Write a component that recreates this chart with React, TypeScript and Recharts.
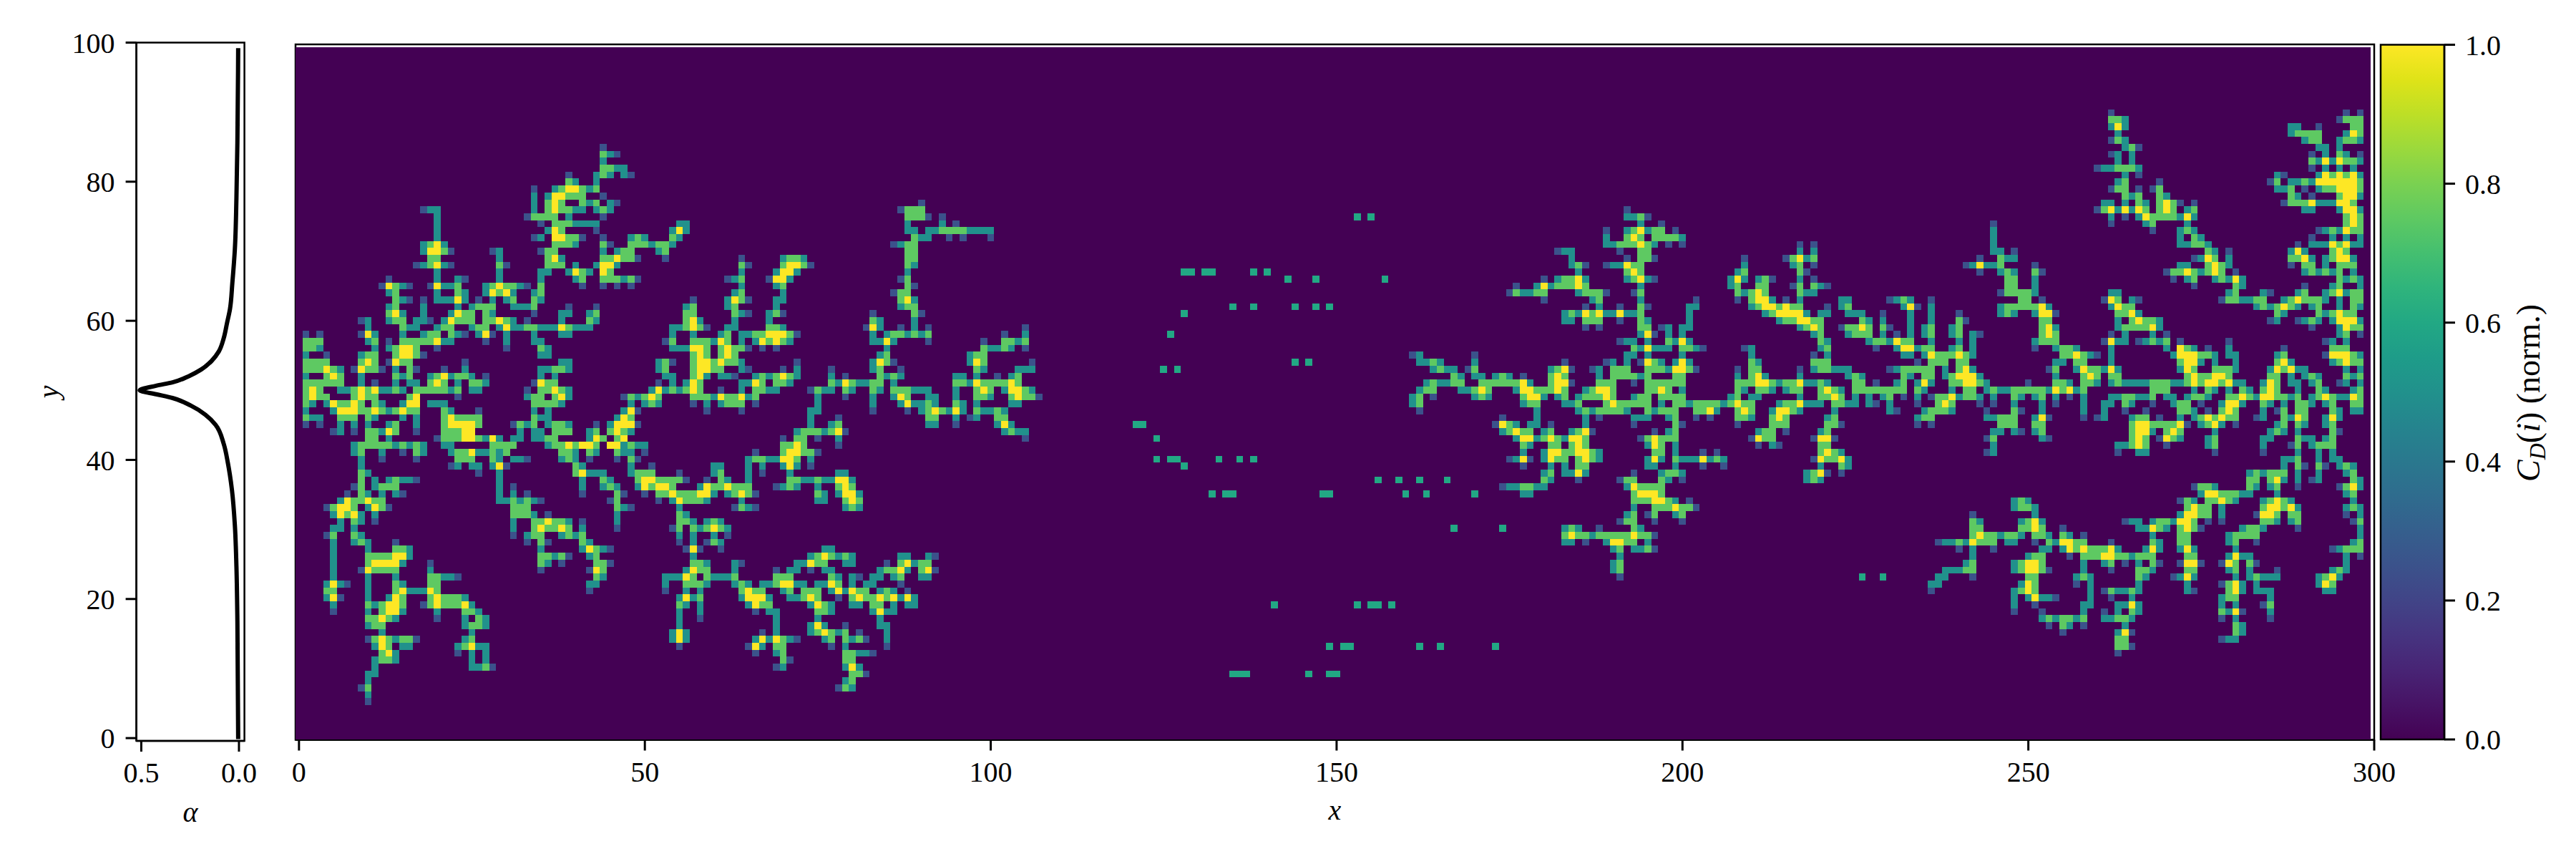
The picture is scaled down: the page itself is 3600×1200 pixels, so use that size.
import React from 'react';
import {
  Bar,
  ComposedChart,
  ReferenceArea,
  Scatter,
  ScatterChart,
  XAxis,
  YAxis,
} from 'recharts';

// Cells are written per row as [y, "start+level+run ..."], e.g. "44c2" is x=44,45 at level c.
const levels: Record<string, number> = { a: 0.25, b: 0.5, e: 0.6, c: 0.75, d: 1 };

const viridis = [
  '#440154', '#471365', '#482475', '#463480', '#414487', '#3b528b', '#355f8d',
  '#2f6c8e', '#2a788e', '#25848e', '#21918c', '#1e9c89', '#22a884', '#2fb47c',
  '#44bf70', '#5ec962', '#7ad151', '#9bd93c', '#bddf26', '#dfe318', '#fde725',
];

const xTicks = [0, 50, 100, 150, 200, 250, 300];
const yTicks = [0, 20, 40, 60, 80, 100];
const alphaTicks = [0.5, 0];
const colorTicks = [0, 0.2, 0.4, 0.6, 0.8, 1];

const alphaValues = [
  0.004, 0.008, 0.013, 0.021, 0.034, 0.046, 0.061, 0.078, 0.103, 0.141, 0.193, 0.256, 0.34, 0.424,
  0.508, 0.424, 0.34, 0.246, 0.172, 0.12, 0.078, 0.057, 0.036, 0.021, 0.013, 0.008, 0.004,
];
const alphaY = [
  99.2, 85.7, 77.6, 70.3, 65.4, 61.7, 59.7, 57.5, 55.6, 54.2, 53, 52.05, 51.15, 50.66,
  50, 49.44, 48.9, 47.8, 46.5, 45.05, 42.3, 39.6, 35.7, 30.6, 24.7, 16.8, -0.15,
];

const leftNear: [number, string][] = [
  [85, '44a'], [84, '44c 45b 46a'], [83, '44b'], [82, '44c2 46b2'], [81, '39a 43b 44c 45b 47b'],
  [80, '39c 40b 43b'], [79, '34a 37b 38c 39d2 41c 42b 43c'], [78, '34b 36b 37d2 39c3 44a'],
  [77, '34b 36c 37d 38c 41c 42b 43c 45b 46a'], [76, '18a 19b2 34b 36c 37d 38c2 40b2 43b 44c 45b'],
  [75, '20b 33a 34c4 39b 44a'], [74, '20b 35a 37c3 40b4'], [73, '20b 36b 37d 38c 43a'],
  [72, '20b 34a 35b 37d2 39c2 41a 44a'], [71, '18b 19c 20d 21b 37c3 40b 44c 45a'],
  [70, '18b 19d2 21c 22a 28a 29b 35a 36c2 44b 46b 47c'], [69, '19c2 29b 36c 37d 38b 44c2 46d 47c'],
  [68, '17a 18b 19c 20d 21b 22a 29c 30a 36c3 40b 43b 44d2 46b'],
  [67, '20b 29b 35b2 39b 40d 41c 42b 44d 45c'], [66, '13a 20b 23b 24a 29b 35b 40b 41c 44c3 47b'],
  [65, '12a 13d 14c 15b 16a 19a 20d 21b2 23c 27b 28c 29d 30c2 32b 33a 35c 41a 44a 46a'],
  [64, '13b 14c 20b 23c 24b 27b 28d 29c 30d 31b 34b 35c'],
  [63, '14c 15b 16a 18a 20b3 23d 24b 26a 28b 30b 31c 34c 35b'],
  [62, '13b 14c 18b 23b 25b 26c3 31b3 34c 39a 43a'],
  [61, '13c 14d 15b 18b 22b 23d 24c2 27c 28b 34a 38b2 42b 43c'],
  [60, '9a 10b 13b 14c2 17b 18b 19a 21b 22d 23c3 27c2 29d 30c 31b 33a 38b 42c 43b'],
  [59, '10b 15c 16b2 20b 21c2 25b 26c2 29b 30d 31b 32b 33c2 35b3 38d 39c 40b3'],
  [58, '1a 3a 9a 10d 11b 15b 18b 19c2 22c 23b 24a 26b 27d 28a 30b 34b 38b2'],
  [57, '1c3 10b 11c 13a 15c5 20d 21b2 27a 30b 34b2'], [56, '1c2 3b 11b 13b 14c 15d2 17c 20a 30a 35c 36b'],
  [55, '1b 4a 9b 10c2 14c 15d2 17c 18a 35b2'], [54, '1c4 9c 10d 11c 13a 14d 15c2 24a 38b2'],
  [53, '1c3 4d 5c 6b 8a 9d 10c2 12a 14b 16c 17a 21a 24b 35b2 37c2 39b'],
  [52, '1b 4c 5d 6c 9b 14c 15b 16c 19b 20c 21d 22b 23c2 25b 27a 35b 37b'],
  [51, '1c6 9b 11a 14b 16b2 19c 20d 21c 23b 25c2 27b 34a 35d 36c2'],
  [50, '1c 2d 3c 6b2 8c 9d 10c 11d 12b2 14c 15b 17c5 22b 23c 25b2 33a 35c2 37d 38c 39b'],
  [49, '1c 2d 3c2 8c 9d 10c2 16c 17d 23a 33b 34c2 37c 38d 39b 47a'],
  [48, '1c 2b 4b 5d 6c2 8d 9c 11c 12b 15b 16d2 19b3 34c4 38b'],
  [47, '1b 5b 6d3 9c2 11d 12c 13b 14c 15d 16c2 21c 22b 26a 34b 36b 47b'],
  [46, '1c 2b2 6c3 10c 11b 15b 17b 21c 22d 23c4 34c 35b 36b 46b 47d'],
  [45, '1a 3a 6b 8b 10b 13b 14c 17b 21c 22d4 26c 31a 32c 33b 34c 36b 37c2 39b 43a 45b 46d2'],
  [44, '5a 6b 8a 10c2 12b 13d 14c 17a 21c3 24d2 32b 34b2 37c3 42b 43c 45c 46d 47c'],
  [43, '10c2 13b 20a 21c3 24d2 26c 27b 28d 29b 31b2 34b2 36c2 42b 43d 44c 46c 47d'],
  [42, '8b 9c5 14b 15c 16b 17c 18b 21b2 28c4 36b 37c2 39d 40c 41d2 43c 45d2 47b'],
  [41, '8b 9c 12b 15a 17c 18b 22b 23c2 25d 26b2 28c 29b 30c 38c2 40b 42c 43b 46c 47b'],
  [40, '9b 12a 17a 23c3 28c 29b 31b2 33a 38b 39c 40b 42a 46a'],
  [39, '9b 22a 23b 25b2 28b 29d 30a 40c 41b'], [38, '9c 10b 26a 29b 40c 41d 42b3'],
  [37, '9c 11b 13b 14c 15b2 17a 29b 41b 44c 45b'], [36, '8a 9c 11b 12c3 29b 31a 41b 44b 45c 46b'],
  [35, '7a 9c 10b 12b 14b 15a 29b 31b 33a 41a 46c 47a'],
  [34, '6b 7d 8c2 10d 11c2 29b2 31c 32b 33c 34b 35a 45a 46c'],
  [33, '4a 5c 6d2 8c 10b 11d 12c 13a 31c3 46c 47b'], [32, '5b 6d 7c 8d 9b 11b 31c3 34b 36a 46b'],
  [31, '6b 8c 9b 11a 31b 34c2 36d 37c2 39b 41a 46b'], [30, '5b2 8b 31b 34c 35d 36c2 38d 39c 41b 46a'],
  [29, '4a 5c 8c 9b 31a 33b 34c2 38b 39c 40b 41c'], [28, '5b 8b 9c 10b 14a 33a 35c 36a 41c 42b'],
  [27, '5b 10b 14c2 16b 35b 41b 42d 43c 44b 45a'], [26, '5b 10c4 14d2 16b 35c2 37b 38c 39a 42b 43c'],
  [25, '5b 10c 11d4 15b 19a 35c 36b 38a 43c2 45a'], [24, '5b 9a 10d 11c4 19b 35a 42a 43d 44c'],
  [23, '5b 10b 14b 19c2 21b2 23a 43c 44b'], [22, '4b 5d 6b 7a 10b 14c 15b 19c2 42b2'],
  [21, '4c2 10b 14c 15d 16b3 19d 20c 42a'], [20, '4b 5d 6a 10b 13b 14d 15c 19c 20d 21c3 24b'],
  [19, '5b 10c 11b 12c 13d2 15c 18a 19c 20d 21c3 24d 25b'], [18, '5a 10b 12c 13d2 15b 20b 24c2 26b'],
  [17, '10c2 12d 13c 14b 20a 24b 26c 27b'], [16, '10b 11c2 24b 25c2 27b'], [15, '12b 25b'],
  [14, '10a 11c 12d 13c 14b 15c2 17a 24b 25c'], [13, '11b 12d 13c 15b2 23b 24c 25d 26b2'],
  [12, '12c 13d 14b 23a 25b 27b'], [11, '11b 12c2 14b 25b 27b'], [10, '11b 25b2 27c 28a'],
  [9, '10b2'], [8, '10b'], [7, '9a 10c'], [6, '10b'], [5, '10a'],
];

const leftFar: [number, string][] = [
  [81, '48a'], [77, '90a'], [76, '87a 88c3'], [75, '88c3 91a 93a'], [74, '55b2 88b 93b 95a'],
  [73, '54b 55d 56b 88b2 91b2 93c4 97b4'], [72, '48b 49c 50b 54c 55b 89c 90b2 94a 96a 100a'],
  [71, '48c3 51b 52c2 54b 86a 87b 88c2'], [70, '48c 52b 53c 88c2'], [69, '48c 49a 53a 64a 70b 71c2 73b 88c2'],
  [68, '64c 65a 70c 71d2 73c 74a 88c 89b'], [67, '64b 69b 70d2 72b 88b'],
  [66, '48c 49a 62a 63b 64c 68a 69d2 71b 87a 88c'], [65, '48a 64b 69b 70c 88c 89a'],
  [64, '63b 64c 70b 86a 87c2'], [63, '57a 62b 63d 64c 65a 69b2 87c 88d 89b'], [62, '56b 57c 62b 63c 69b 87b 88c2'],
  [61, '56c2 63c 64b 65a 68b 69c 70a 83a 89c 90a'], [60, '56c 57d 58b 63b 68b 83c 84b 89b'],
  [59, '54b2 56c 57d 58c 59a 62b2 68c2 70b 82a 83d 84b 87a 89b 91a 105a'],
  [58, '54b 57b 61b 62c 64b2 66c2 68d3 71c 72a 83b 85b 86c2 88b 89c 90b 91c 102a 105b'],
  [57, '53a 54c 57c3 60b 61d 62c 64b 66b 67d 68c 69d 70c 71b 83b2 85d 86b 91a 99a 102c2 104b 105c'],
  [56, '54b3 57d2 59c 61c 62d 63c2 65a 67a 69a 85b 99c 100b2 102c 103b 105a'],
  [55, '57c 58d 59c 61c 62d 63c 84b 85c 97b 98c2'],
  [54, '52b 53c 54a 57c 58d2 60c 61d 62c2 64b 72a 83b 84d 85c 86a 97b 98d 99c 106a'],
  [53, '52b 53c 57c 58d2 60c2 64b 65a 70a 72b 77a 83b 84c 87a 98c 99b 104b3'],
  [52, '53b2 57c 58d 59b 61b2 63a 66b 67c 68b 69c 70d 71c 72b 77b 79a 84c 85b 86c 87b 95b2 98b 101a 103b 104c'],
  [51, '52a 54b 56b 57d 58c 64b2 66d 67c 69c2 71b 77c 78b 79d 80c 81b2 83c2 86b 95c2 97b 98d 99c4 103d 104c'],
  [50, '51b 52d 53b 54c 55b 56c 57d 58c 61a 64b 66c2 68b2 74a 75c 76b2 79c 80b 83c 84b 86c3 89b3 95b 98c 99d 100c 102b 103d2 105c 106b'],
  [49, '48c 49b 50c 51d 52c 57c3 60b 61d 62c2 64d 65b 66c 75b 79a 83b 86b 87d 88c 91b2 95b 98c2 100b 103c 104d 105c2 107a'],
  [48, '48b 50b 51c 52b 57a 59b 61b 62c3 66a 75b 83b 87b 88d 89b2 91c 92b 95c 96b 98b 103b2'],
  [47, '48d 49a 59a 64a 74b2 83a 88a 90b 91c 92d 93c 94b 95d 96b 98c 99b2 101c 102b'],
  [46, '48c 74b 78a 91c2 95b 97a 98b 101c2'], [45, '48d 49a 74b 77b 78c 91b2 95a 101b 102d 103b'],
  [44, '48b 72b 73c3 76b 77c 78d 79a 102b 103c 104b2'], [43, '70a 72c2 75a 78b 105a'],
  [42, '48c 49b2 70c2 72d 73c 78a'], [41, '48b 50a 66a 70c 71d2 73c2 75a'],
  [40, '48c 49a 65b 66c2 68b2 70d2 72c 74b'], [39, '48b 51a 60b2 65b 67b 70b 71d 72b 74a'],
  [38, '48b 49c3 55a 60b 61c 65b 67a 71b 78b2'],
  [37, '49c 50d2 52c4 56a 59a 61c 62b 65b 71c2 73b2 75c 76b2 78d2 80b'],
  [36, '49b 50d 51c 52d2 54c 58b 59d 60c2 62d 63c3 69a 70b 71c 72b 75b 78c 79d 80c'],
  [35, '50a 52c2 54d 55c3 58d2 60b 62b 63c 64d 65c 66a 75c 76b 78b 79d2 81b'],
  [34, '52a 54b 55d 56c3 59b 64b 75b2 79c 80d 81c'], [33, '48a 55b 63a 64c 65b 66a 79b 80c 81b'],
  [32, '55c 56b'], [31, '55c2 57b 59b 60c 61b'], [30, '54a 55c 57c 58b 59c 60d 61c 62b'],
  [29, '55b 57b 60b 62a'], [28, '55a 57b 59a 60c 61b'], [27, '56a 57d 58a 61a 76b2'],
  [26, '57b 74b 75c 76d 77c 78b 79c 80b 87b2 91b 92a'],
  [25, '57c2 59b 63b 64a 72b2 74d 75c2 79b2 85a 87c 88d 89b 90c2'],
  [24, '56b 57d 58c2 63b 69a 71b2 74a 76b2 84b 85c2 87d 88b 90c 91d 92a'],
  [23, '53b3 56d 57c 59c 60b3 63c 69c3 77c 78b 80b 81a 83b2 86b 87c 90b2'],
  [22, '53b 56c3 59b 63b 64c 65b 67b2 69c 70d2 72b2 75b2 77d 78c 80b 82b2 87a'],
  [21, '53a 56b 58b 64c 65d 66c2 70b 71c 73c3 77b 78d 79b 80d 81c2 84b 85c 86b 88a'],
  [20, '55b 56d 57b 58c 64b 65d3 68b 71b2 73c 74d 75c 78a 80c 81d 82c2 84d 85c 86d 87b 88d 89b'],
  [19, '55c 56b 58b 65b 66d 67c2 74b 75d 76c 77b 80b2 83c2 86b 88b2'],
  [18, '55b 58b 66a 68b2 75c2 77b 83b 84d 85b2'], [17, '55b 58a 69b 75b 84b'],
  [16, '55b 69b 74b 75d 76b 79a 84b2'], [15, '54b 55d 56b 67a 69b 74b 75c 76d 77c 78b 79c 81a 85b'],
  [14, '54b 55d 56b 66b 67d 68b 69d 70c 71b 72a 76b 77c 79c 80b 81c 82a 85b'],
  [13, '55a 65a 66d 67b 69c2 77a 79b 85a'], [12, '66a 69b 70c 79c2 81b2 83a'], [11, '70c 71a 79c2'],
  [10, '69a 70b 79b 80d 81b'], [9, '80c2 82a'], [8, '79b 80c'], [7, '78a 79c 80b'],
];

const sparseDots: [number, string][] = [
  [75, '153e 155e'], [67, '128e2 131e2 138e 140e'], [66, '143e 147e 157e'],
  [62, '135e 138e 144e 147e 149e'], [61, '128e'], [58, '126e'], [54, '144e 146e'], [53, '125e 127e'],
  [45, '121e2'], [43, '124e'], [40, '124e 126e2 133e 136e 138e'], [39, '128e'],
  [37, '156e 159e 162e 166e'], [35, '132e 134e2 148e2 160e 163e 170e'], [30, '167e 174e'],
  [23, '226e 229e'], [19, '141e 153e 155e2 158e'], [13, '149e 151e2 162e 165e 173e'], [9, '135e3 146e 149e2'],
];

const rightNear: [number, string][] = [
  [76, '192a'], [75, '192b2 194c 195a'], [74, '194b 197a'], [73, '189a 192b 193c 194d 195b 196c2 199a'],
  [72, '189b 192c 193d 194c 196c4 200b'], [71, '189b2 191c3 194d 195c 196b 198a 200a 217a 219a'],
  [70, '182a 183b2 191a 194c2 217b 219b'], [69, '184b 192a 194c2 196a 209a 215a 216c 217d 218b 219c'],
  [68, '184b 185c 186a 189a 190b2 192d 193c2 209b 216b 217c 219a'], [67, '185b 192c 193d 194c 208b 209c 217c 218a'],
  [66, '180a 182b 183c2 185d 186b 192b 193c 194d 195b 196a 207b 208d 209b 211b 212c 213a 217b 219a'],
  [65, '176a 179b 180d 181b 182c3 185d 186c 194b 207b 208c 211c2 216a 217c 219c 220b 221a'],
  [64, '175a 176c 177b2 179c2 185b 186c3 189a 193a 194c 208c 209b 210c 211d 212c 217c 218b2'],
  [63, '180a 187b 188c 194b 202a 208a 210c 211d2 213b 215a 217b 223b2 230a'],
  [62, '186a 188b 191a 194c 195a 201b2 210b 211c 212d2 214c 215d 216c2 221a 223b 224c'],
  [61, '183b 184c 185b 186d 187c 188d 189b2 191d 192b2 194c 201b 212b 213c 214d4 218b 220b2 224b3 229a'],
  [60, '183b2 186c3 191a 194c 195b 201b 214b 215c2 217d2 219c2 226c 227b 229b'],
  [59, '186a 188a 194c2 197a 198b 200b2 217b 218c 219d 220c 223a 224c2 226d 227c 229c 230a'],
  [58, '194b 195d 196a 198b 200b 219b 220c 224b 225c3 229b'],
  [57, '191a 192b2 195b 198c 199b 200d 201b 220c 221b 227b 228c2 230b'],
  [56, '193c 194b 195d 196b3 200c2 202b 203a 209a 210b 220b 221c 228a'],
  [55, '161a 162b 170a 192b2 195b 200b 210b 219a 221b'],
  [54, '162b2 164c 165b 170b 183a 189a 190b 192b 194a 195d 196c 197b 199b 200d 201b 210c 211b 219c3'],
  [53, '164b 165c 166b2 169a 170c 181b 182c 183d 184a 187a 188b 190c3 195c3 198b 199d2 201c 202a 208a 210c2 217a 219b 220c2 222b3 230a'],
  [52, '167c 168b 170b2 173b 174c 175b 177a 181c 182d 183c 188b 190c4 194b 195c 199c2 208b 210c 211d 212b 217b 224b 225c 226b'],
  [51, '163b 164c 165b2 167c2 171c6 177d 178b 181c 182d2 184a 188c3 193a 195c6 208c3 211d2 213c 214b 215c2 217d 218b2 220c 221b 225c2 228a'],
  [50, '162b 163c2 168b2 170c 171d 172c 176b 177d2 179c3 182d 183c 186b 187c 188d2 190c 195c2 197d 198c 200b 208c 209b 211c2 213b 215b 216c2 220c 221d 222c 223b 225c6'],
  [49, '161b 162c 164a 170b 171c 172b 177c 178d2 180b 182b 183c 185b 186c3 189d 190c 193b 194c2 197c4 207b 208c 210b2 217b 220c2 222d 223c 225b 227b 229b 230c'],
  [48, '161b 162c 177b 178c2 183b2 185c 189c 190d 191c5 197b 199c2 201b 202c4 206b 207c 208d 209c2 214b 215c2 217d 218b3 222c2 224b2 227b 228a 230b'],
  [47, '162a 179b 185b 186c 187b 188c4 192b 195c 196b 197c3 202c2 204d 205b 208c 209d 210c 213b 214d2 216c 217b 222b 230b'],
  [46, '174a 179b 186b 188a 193b3 198b 199c 202a 204a 208c2 210b 213c 214d 215c 221b 222c'],
  [45, '173a 174d 175c 176b 178b2 181a 186b 193a 199c 200a 208a 213c3 221c2 223a'],
  [44, '174b 175c 176d 177c2 180b 181c 184b 185c 186d 187a 196a 198b 199c 211b 212c2 215a 220b 221c'],
  [43, '176b 177d2 179b 180c 181d 182c 183b 184d2 186c 194a 195c 196d 197c3 210a 211d 212c2 219a 220d2 222a'],
  [42, '177c 178b 181c2 184c 185d 186c 195b 196d 197c 199b 211a 213b 214a 220c2'],
  [41, '177b 180b 181d2 183c2 185d2 187c 188b 196c2 199b 203a 205a 220c 221d 222c 223b'],
  [40, '175a 176b 177d 178a 180b 181d 182c2 185c 186d 187c 188b 195b 196d 197b 199c 200b3 203d 204b 205c 206b 219a 220d 221c2 223d 224b'],
  [39, '177a 181b 183b 185c2 195b2 199b 203a 206a 220b 223c 224b'],
  [38, '180b 181c 183b2 185d 186b 193a 197b 198c2 200b 218b 219c 220d 221a 223a'],
  [37, '180c 181b 185a 191a 192c2 197c 198b 200a 218b 219c 220b'],
  [36, '174a 175b2 177c2 179b2 192b 193d 194c4'], [35, '177b2 193c 194d3 197c'],
  [34, '193c3 196d2 198c 199b 201a'], [33, '193b 196c3 199d 200c2 202a'], [32, '192b 193c 195a 196c 199b 200c'],
  [31, '191a 192c2 196a 200a'], [30, '183b 184c 185b 188a 193c 194b'],
  [29, '183c 184d 185c2 187b 188c5 193d 194c2 196a'], [28, '183b2 186a 189b 190d2 192c2 195b'],
  [27, '190b 191c 193b2 195c 196a'], [26, '191b'], [25, '190b 191c'], [24, '190b 191c'], [23, '191a'],
];

const rightFar: [number, string][] = [
  [90, '262a 296a 298a'], [89, '262c2 264b 295a 296c3'], [88, '262b 263d 264b 288b2 292a 297c2'],
  [87, '263b 288b 289c4 296b 297d 298c'], [86, '262a 263c 264b 290b 291c2 295b 296c2 298b'],
  [85, '264b 265c 266a 292b2 295b'], [84, '262a 263b 265b 291a 293b 295c 296b 298a'],
  [83, '263b 265b 291c 292b 293d 294b 295d 296c2 298b'], [82, '260a 261b2 263c3 266b 291a 293b 295b 297b'],
  [81, '264b 266a 286b 287a 292b 293d 294c 295d 296c 297d 298b'],
  [80, '263b 264c 269a 285a 286c 288b2 290c 291b 292d6 298c'],
  [79, '262a 263c2 266a 268a 269c 286b2 288c 290a 292b 293c2 295d3 298c'],
  [78, '264c 265b 266c 269c 270b 288c 289b 291a 295c 296d2 298b'],
  [77, '261b2 264b 266c 267b 269c 270d 271c 272a 274a 287a 288c3 291d 292b3 295d2 297c'],
  [76, '260a 261c 262d 263b 264d 265b 266d 267c 269c 270d 271c 273b 274c 290b2 295b 296d2 298b'],
  [75, '262b 264a 266b 267d 268c4 272b 273d 274b 296c 297d 298c'], [74, '245a 262a 267b 268c 273b 296c 297d 298c'],
  [73, '245b 268a 272b 273c 274b 292a 293b 294c 295b 296d 297c2'], [72, '245b 272b 274c 275b 291a 294b 296b 298b'],
  [71, '245b 272b2 274c2 276b 289a 291b3 294d 295c 296d 297b2'], [70, '245b2 248a 276c 277b 279a 288b 289d 290b 294c 295d 296c'],
  [69, '243a 246c 247b2 274a 275b 276d 277c 279b 288c2 290d 291b 293b 294c 295d2 297b'],
  [68, '241a 242b 243d 244b2 246c 251a 272b2 276c 277d 278c 279b 288a 290c2 293b 295c3'],
  [67, '243a 246b 247c 248b 251c 252a 270a 271c2 273d 274c 275b 276c 277d 278c 280a 290b 291c 292b 293c 294b 295c 297b'],
  [66, '247c2 251b 271a 273b 274c 277b 278c 279b 280d 281b 295c 296b 297c 298b'],
  [65, '247c2 251b 274a 280c 281b 290a 294b 295c 298b'],
  [64, '246a 247c4 251b 262b2 279b 280c 284b 285a 289b 290c 293b 294c 295d 296b 297c2'],
  [63, '231b 232c 233b 236a 249c2 252a 261a 262d 263c 265b 266a 278a 279c2 281b2 283c2 287b 288c 289d 290c3 293b 295b 297c2'],
  [62, '232b 233d 234a 236b 246b 247c5 252d 253b 262b 263d 264c2 283b 284c 285b 286c 287d 288c 289b 291b 292c 295b 297c 298b'],
  [61, '233b 236b 240a 246b 247c 248b 251b 252d2 254a 263c2 265d 266b 286c 287b 292c 293b 294c 295d 296c2'],
  [60, '233b 236b 240c 241a 252c2 263b 265c 266d 267c2 269b 285a 286b 289a 290b 291c 292b 294b 295d3 298b'],
  [59, '233b 235b 236c 239b 240c 252c 253d 254b 263b 264c4 268d 269b 291a 295b 296d 297c2'],
  [58, '231a 233b 235b 236c 239b 240c 242b 243a 252c 253d 254c 262a 264b 268b 270a 295b 296c 298a'],
  [57, '231d 232c2 236b 240b 242b 251b 252c3 261a 262d 263b2 266a 267b 268c 269b 270c 272a 279a 293a 294b 296b'],
  [56, '231b 232d2 234b 235c2 239b 240c 242b 251a 254b 255c2 257b 262b 270b 272d 273c 274b 276a 279b 287a 294c3'],
  [55, '232b2 235b 236d 237c3 240d 241c 242b 255c2 257d 258c 259b 260a 262b 271b 272d3 275c2 277b 279b2 286b 287c 293a 294d3 297c 298b'],
  [54, '234a 236c3 240c2 254b2 257c2 262b 272c 273d2 275b 277b 280b 286c 287d 288b 294b 295c 296d 297c2'],
  [53, '231b 232c5 238b 240c 241d 242b 253a 254c 257b 258d 259c2 261b 262d 263b 272b 273d 274c 277c3 280b 285b 286d 287c 288d 289b2 296b 298b'],
  [52, '232c 233b 235c2 238b 239c 240d3 243b 254b 258c 259d 260c 262c2 273c 274d 275c2 277d2 279c 285c2 288b 290b 291c 292b 296c 297b 298c'],
  [51, '231b 232c 234b 235d 236b 239c2 241d2 243c 244b 250a 254c2 256b 258c2 260b 262b 263c 264b4 268c3 271b2 273c 274d 275c 276d2 278c 279d 280b2 284b 285d 286c 288b2 291b 292c 295a 296b 298b'],
  [50, '231c2 234c 235b 239b 241c2 244b 245c 246b2 248c5 253b 254d 255c 256d 257b 258c 268c3 274b 276c 277b 279b 281c 282b 284c 285d 286c 289b 292c 293b 297b 298c'],
  [49, '232a 234b 236a 237c2 239d 240b 241c2 243b 245b 248c 249b 251b 252c 254b 256a 258b 262b2 264c2 266b2 268c 270b2 273b 274c2 276b 279c2 281d 282c 283b 284d2 286c2 288b 289c 291b 292c 293d 294c 295b2 297d 298c'],
  [48, '234a 237c 238d 239c 243a 245a 248b 252b 254a 258b 261b2 264c 265b 268a 271b 272c2 275a 278b 279d2 281b 284c 285b 287b 289c2 291b 293b 294c 297c2'],
  [47, '231a 235b 236c3 239b 244a 248c 249a 252b 258b 261b 264a 267a 272c2 274b 276a 278c 279d 280c 284b 286a 287c 289c2 294c 295b 297b2'],
  [46, '234b 235c2 244b2 246c3 251b 252d 253a 258a 260a 261b 265b 266c2 269a 272b 274b 275c 276d 277c 278d 279c2 283a 284b 287c 288b 289d 290c 293b 294d 295b'],
  [45, '234a 236a 246c3 251c2 265c 266d2 268c4 272d 273a 275b 276c 277d 278b 280a 286b 287c 289c 290b 293b 294c'],
  [44, '245b2 248b 249a 251b 252c 265c 266d2 268b 270c 271d 272c 277b 285b 286c 287b 289b 294c 295a'],
  [43, '244a 245c 252b 253a 265c 266d 267c 269a 270d 271c 272b 276b 277c 284b2 289c 290b2 293b 294c'],
  [42, '245b 263b2 265c 266d 267c 270a 276b 277c 284b 288a 289c 291b 292c3'],
  [41, '244a 245b 263a 266b2 277a 284a 289b 292b 294b'], [40, '287b2 289c 292b 294b2'],
  [39, '287b 289c 290a 292c 293a 295b 296c 297b'], [38, '282b 283c 284b 285c3 289b 292b 296b 297c'],
  [37, '282c2 285c 286d 287b 289b 291a 292b 297c 298b'],
  [36, '274a 275c2 277b 282c 283b 285b 286c 289a 295a 296c 297d 298b'],
  [35, '275b 276d2 278c3 281b2 286b 296b 297c'],
  [34, '248b 249c 250b 272a 273c 274b 276c2 278d 279c 280b 284b 285c 286d 287c 288b 297b'],
  [33, '248b 249c2 251b 273c 274d 275c2 278b 284c 285d2 287c 288d 289b 296b 297c 298b'],
  [32, '242a 251b 272b 273d2 275c2 278b 283a 284d2 286c 288c2 296a 298b'],
  [31, '242c 243b 249b 250c 251d 252b 264a 265b2 268b 269c2 271b 272d2 274c 276a 278a 284c2 286b 288b 289c 297a 298c'],
  [30, '242c2 249c2 251d 252c 255a 266b2 268d 269c 270b 272c 273d 274c 275a 281b 282c2 284b 289a 298b'],
  [29, '242c 243d 244c2 246b 247c2 249b 251c2 253b 255c 256b 258a 268b 272c2 279b 280c4 298b'],
  [28, '237a 238b2 240c 241b 242d 243c3 247b2 251a 253c 254b 255d2 257c2 262a 268c 269b 272c2 279b 280c 283a 297b 298c'],
  [27, '240a 242b 245a 252b2 255b 256d 257c 258d 259c3 262d 263b 267b 268d 269b 272b 273d 274b 280b 294a 295b 296c3'],
  [26, '242b 250b 251c2 256a 258c3 261d2 263c2 265b 266c3 273c2 279b 280d 281b2 296b 298a'],
  [25, '241b 242c 248b 249c 250d2 252c 258b 261b 262c 264a 266b 268c 269a 272a 273d2 275a 278a 279d 280c 282c 283a 296b'],
  [24, '238b3 241c2 248b 249c 250d2 252c 253a 258b 262a 266c2 268b 273c2 279b 280c 282b 286a 294b 295c 296b'],
  [23, '237b2 242a 250c2 257b 258c 259b 266c 267b 271a 272b 273d 274b 280b 282b 283c 284b3 292b 293c 294d 295b'],
  [22, '236b2 249b 250d 251c 257a 259b 266b 273b 278a 279c 280d 281b 283b 292b 293d 294c'],
  [21, '236a 248b 249c 250d 251c 259b 261a 262c 263b2 265c 266b 273b 274a 279c 280d 281b 283b3 293b2'],
  [20, '248b 250b 251d 252b2 254a 259b 262a 265b 278b 279c2 285b'], [19, '248b 251a 258b2 263b2 265d 266b 278b 280b 284a 285c'],
  [18, '248a 252a 258b 261a 263b 265c 266b 278c 279b 280d 281a 285b'],
  [17, '252b 253c 254b 255c2 257b 258c 261b2 263c2 265b 278a 280b 285a'],
  [16, '253a 255c 256b 258a 264b 280c 281b'], [15, '255a 263b 264d 265a 280c 281b'],
  [14, '263c2 278a 279b2'], [13, '263c2 265a'], [12, '263a'],
];

const SERIF = '"Liberation Serif", "DejaVu Serif", serif';
const CELL_W = 9.667;
const CELL_H = 9.679;
const tickStyle = { fill: '#000', fontSize: 40, fontFamily: SERIF };
const lineStyle = { stroke: '#000', strokeWidth: 2.5 };
const tickLineStyle = { stroke: '#000', strokeWidth: 3 };
const layer: React.CSSProperties = { position: 'absolute', left: 0, top: 0 };

function parseRows(rows: [number, string][]) {
  return rows.flatMap(([y, tokens]) =>
    tokens.split(' ').flatMap((token) => {
      const m = token.match(/^(\d+)([a-e])(\d*)$/);
      if (!m) return [];
      const run = m[3] ? Number(m[3]) : 1;
      return Array.from({ length: run }, (_, k) => ({ x: Number(m[1]) + k, y, v: levels[m[2]] }));
    }),
  );
}

const cells = [leftNear, leftFar, sparseDots, rightNear, rightFar].flatMap(parseRows);
const imageCentre = [{ x: 149.5, y: 49.5 }];
const alphaCurve = alphaValues.map((alpha, i) => ({ alpha, y: alphaY[i] }));
const colorbarData = [{ name: 'cb', value: 1 }];

function CellShape(props: any) {
  const { cx, cy, payload } = props;
  return (
    <rect
      x={cx - CELL_W / 2}
      y={cy - CELL_H / 2}
      width={CELL_W}
      height={CELL_H}
      fill={viridis[Math.round(payload.v * 20)]}
      shapeRendering="crispEdges"
    />
  );
}

function ImageBackground(props: any) {
  const { cx, cy } = props;
  return (
    <rect
      x={cx - (300 * CELL_W) / 2}
      y={cy - (100 * CELL_H) / 2}
      width={300 * CELL_W}
      height={100 * CELL_H}
      fill={viridis[0]}
      shapeRendering="crispEdges"
    />
  );
}

function ColorbarLabel() {
  return (
    <text
      x={3549}
      y={549}
      transform="rotate(-90 3549 549)"
      textAnchor="middle"
      fontFamily={SERIF}
      fontSize={46}
      fill="#000"
    >
      <tspan fontStyle="italic">C</tspan>
      <tspan fontStyle="italic" fontSize={32} dy={8}>D</tspan>
      <tspan dy={-8}>(</tspan>
      <tspan fontStyle="italic">i</tspan>
      <tspan>) (norm.)</tspan>
    </text>
  );
}

function HeatmapPanel() {
  return (
    <ScatterChart
      width={3600}
      height={1200}
      style={layer}
      margin={{ top: 62, left: 413, right: 282, bottom: 41.5 }}
    >
      <XAxis
        type="number"
        dataKey="x"
        domain={[-0.5, 300]}
        ticks={xTicks}
        height={125}
        tickSize={15}
        tickMargin={15}
        tick={tickStyle}
        tickLine={tickLineStyle}
        axisLine={lineStyle}
        allowDataOverflow
        label={{
          value: 'x',
          position: 'insideBottom',
          offset: 14,
          style: { ...tickStyle, fontStyle: 'italic' },
        }}
      />
      <YAxis type="number" dataKey="y" domain={[-0.5, 99.87]} hide allowDataOverflow />
      <Scatter data={imageCentre} shape={ImageBackground} isAnimationActive={false} />
      <Scatter data={cells} shape={CellShape} isAnimationActive={false} />
      <ReferenceArea x1={-0.5} x2={300} y1={-0.5} y2={99.87} fill="none" {...lineStyle} />
    </ScatterChart>
  );
}

function AlphaPanel() {
  return (
    <ScatterChart
      width={3600}
      height={1200}
      style={layer}
      margin={{ top: 59.5, left: 80.6, right: 3258.4, bottom: 40 }}
    >
      <XAxis
        type="number"
        dataKey="alpha"
        domain={[-0.028, 0.525]}
        reversed
        ticks={alphaTicks}
        tickFormatter={(v: number) => v.toFixed(1)}
        height={125}
        tickSize={15}
        tickMargin={15}
        tick={tickStyle}
        tickLine={tickLineStyle}
        axisLine={lineStyle}
        allowDataOverflow
        label={{
          value: 'α',
          position: 'insideBottom',
          offset: 12,
          style: { ...tickStyle, fontStyle: 'italic' },
        }}
      />
      <YAxis
        type="number"
        dataKey="y"
        domain={[-0.4, 100]}
        ticks={yTicks}
        width={110}
        tickSize={15}
        tickMargin={15}
        tick={tickStyle}
        tickLine={tickLineStyle}
        axisLine={lineStyle}
        allowDataOverflow
        label={{
          value: 'y',
          angle: -90,
          position: 'insideLeft',
          offset: -14,
          style: { ...tickStyle, fontStyle: 'italic', textAnchor: 'middle' },
        }}
      />
      <ReferenceArea x1={-0.028} x2={0.525} y1={-0.4} y2={100} fill="none" {...lineStyle} />
      <Scatter
        data={alphaCurve}
        line={{ stroke: '#000', strokeWidth: 6 }}
        lineType="joint"
        lineJointType="monotoneY"
        shape={() => <g />}
        isAnimationActive={false}
      />
    </ScatterChart>
  );
}

function ColorbarPanel() {
  return (
    <ComposedChart
      width={3600}
      height={1200}
      style={layer}
      data={colorbarData}
      barCategoryGap={0}
      margin={{ top: 62.5, left: 3327, right: 74, bottom: 167 }}
    >
      <defs>
        <linearGradient id="viridisRamp" x1="0" y1="1" x2="0" y2="0">
          {viridis.map((color, i) => (
            <stop key={color} offset={i / (viridis.length - 1)} stopColor={color} />
          ))}
        </linearGradient>
      </defs>
      <XAxis dataKey="name" hide />
      <YAxis
        orientation="right"
        type="number"
        domain={[0, 1]}
        ticks={colorTicks}
        tickFormatter={(v: number) => v.toFixed(1)}
        width={110}
        tickSize={15}
        tickMargin={14}
        tick={{ ...tickStyle, textAnchor: 'start' }}
        tickLine={tickLineStyle}
        axisLine={lineStyle}
      />
      <Bar dataKey="value" fill="url(#viridisRamp)" isAnimationActive={false} {...lineStyle} />
      <ColorbarLabel />
    </ComposedChart>
  );
}

export default function App() {
  return (
    <div style={{ position: 'absolute', left: 0, top: 0, width: 3600, height: 1200, background: '#fff' }}>
      <AlphaPanel />
      <HeatmapPanel />
      <ColorbarPanel />
    </div>
  );
}
